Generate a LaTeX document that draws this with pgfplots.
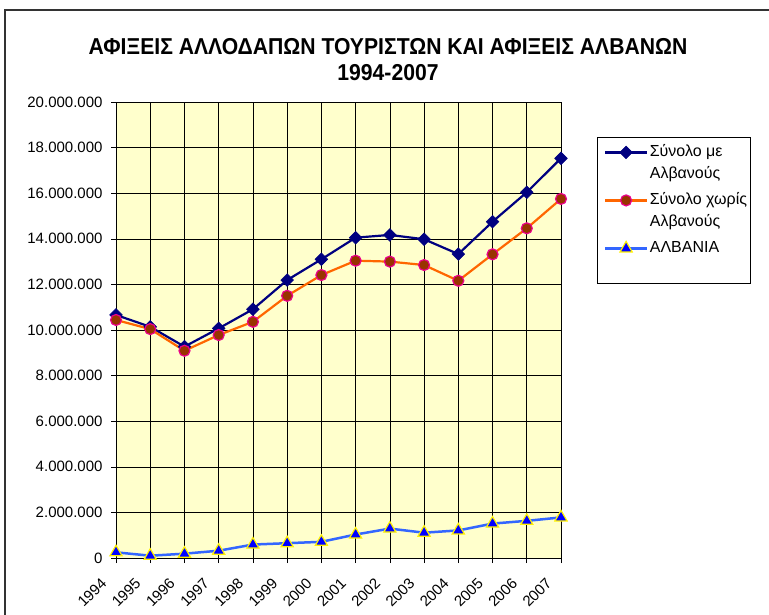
\documentclass[border=0pt]{standalone}
\usepackage{fontspec}
\setmainfont{Liberation Sans}
\usepackage{graphicx}
\usepackage{pgfplots}
\pgfplotsset{compat=1.18}
\definecolor{navyc}{RGB}{0,0,128}
\definecolor{orangec}{RGB}{255,102,0}
\definecolor{brownc}{RGB}{153,51,0}
\definecolor{lblue}{RGB}{51,102,255}
\definecolor{plotbg}{RGB}{255,255,204}
\newcommand{\lstrut}{\rule[-6bp]{0pt}{22bp}}
\begin{document}
\begin{tikzpicture}
\draw[line width=1.2bp, black!80] (5bp,-615bp) -- (5bp,-10bp) -- (769bp,-10bp);
\node[font=\bfseries\fontsize{23bp}{26bp}\selectfont, align=center] at (388bp,-60bp)
  {\scalebox{0.92}[1]{ΑΦΙΞΕΙΣ ΑΛΛΟΔΑΠΩΝ ΤΟΥΡΙΣΤΩΝ ΚΑΙ ΑΦΙΞΕΙΣ ΑΛΒΑΝΩΝ}\\\scalebox{0.92}[1]{1994-2007}};
\begin{axis}[
  at={(116bp,-558bp)}, anchor=south west,
  scale only axis, width=445bp, height=456bp,
  xmin=0, xmax=13, ymin=0, ymax=20000000,
  xtick={0,...,13},
  xticklabels={1994,1995,1996,1997,1998,1999,2000,2001,2002,2003,2004,2005,2006,2007},
  ytick={0,2000000,4000000,6000000,8000000,10000000,12000000,14000000,16000000,18000000,20000000},
  scaled y ticks=false,
  tick label style={font=\fontsize{15bp}{18bp}\selectfont},
  yticklabel style={xshift=-5bp, /pgf/number format/fixed, /pgf/number format/1000 sep={.}, /pgf/number format/assume math mode=true},
  x tick label style={yshift=-9bp, xshift=-16bp, rotate=45, anchor=north east},
  tick align=outside, tick pos=left,
  major tick length=5bp,
  tick style={black, line width=0.6bp},
  grid=major,
  major grid style={black, line width=0.6bp},
  axis line style={black, line width=0.8bp},
  axis background/.style={fill=plotbg},
  legend style={at={(1.081,0.923)}, anchor=north west, draw=black, fill=white,
    line width=0.6bp,
    font=\fontsize{16bp}{19bp}\selectfont, inner sep=1.5bp, row sep=1bp,
    nodes={text depth={}, inner sep=1.5bp},
    cells={anchor=west}},
  legend image code/.code={\path (0bp,0bp); \draw[yshift=10bp, mark repeat=2, mark phase=2] plot coordinates {(5bp,0bp)(26bp,0bp)(47bp,0bp)};},
]
\addplot[navyc, line width=2.2bp, mark=square*, mark size=4.5bp, mark options={rotate=45, fill=navyc, draw=navyc, line width=0.5bp}]
coordinates {(0,10660000)(1,10140000)(2,9270000)(3,10070000)(4,10910000)(5,12190000)(6,13100000)(7,14050000)(8,14170000)(9,13980000)(10,13330000)(11,14750000)(12,16040000)(13,17530000)};
\addlegendentry{\begin{tabular}{@{}l@{}}\lstrut Σύνολο με\\\lstrut Αλβανούς\end{tabular}}
\addplot[orangec, line width=2.2bp, mark=*, mark size=5.5bp, mark options={fill=brownc, draw=magenta, line width=1.2bp}]
coordinates {(0,10440000)(1,10040000)(2,9090000)(3,9780000)(4,10360000)(5,11500000)(6,12410000)(7,13040000)(8,13000000)(9,12850000)(10,12160000)(11,13320000)(12,14460000)(13,15750000)};
\addlegendentry{\begin{tabular}{@{}l@{}}\lstrut Σύνολο χωρίς\\\lstrut Αλβανούς\end{tabular}}
\addplot[lblue, line width=2.5bp, mark=triangle*, mark size=7bp, mark options={fill=blue, draw=yellow, line width=1.2bp}]
coordinates {(0,250000)(1,100000)(2,190000)(3,320000)(4,590000)(5,650000)(6,710000)(7,1030000)(8,1290000)(9,1110000)(10,1210000)(11,1510000)(12,1630000)(13,1780000)};
\addlegendentry{\begin{tabular}{@{}l@{}}\lstrut ΑΛΒΑΝΙΑ\\\lstrut\end{tabular}}
\end{axis}
\pgfresetboundingbox
\path[use as bounding box] (0bp,0bp) rectangle (769bp,-615bp);
\end{tikzpicture}
\end{document}
